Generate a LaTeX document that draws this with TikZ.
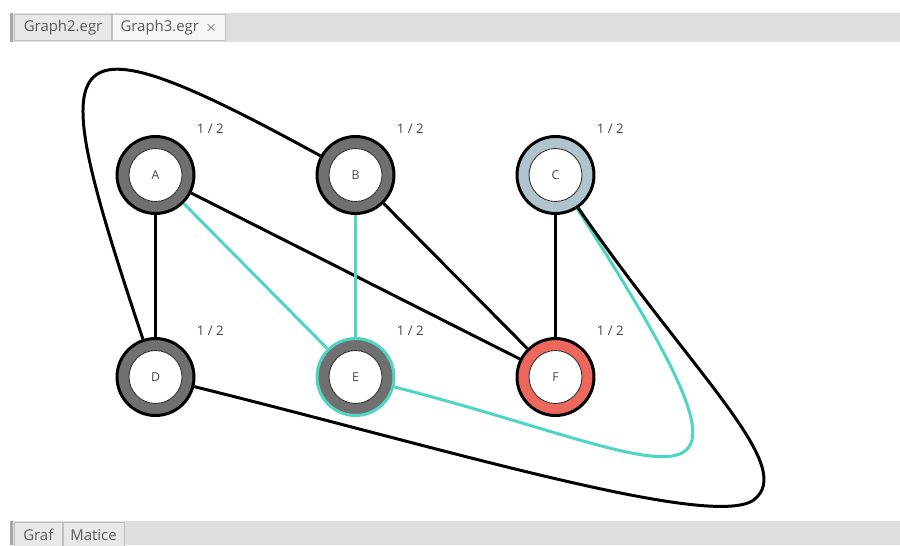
\documentclass[tikz,border=0pt]{standalone}
\usepackage{fontspec}
\setmainfont{Open Sans}
\usepackage{tikz}
\usetikzlibrary{positioning}

\definecolor{ringgray}{RGB}{112,112,112}
\definecolor{ringblue}{RGB}{176,196,206}
\definecolor{ringred}{RGB}{236,104,92}
\definecolor{selcyan}{RGB}{78,214,196}
\definecolor{barbg}{RGB}{222,222,222}
\definecolor{tabbg}{RGB}{232,232,232}
\definecolor{tabsel}{RGB}{246,246,246}
\definecolor{txtgray}{RGB}{70,70,70}

\begin{document}
\begin{tikzpicture}[
        x=0.02cm, y=-0.02cm,
        vertex/.style={circle, draw=black, line width=1.7pt, minimum size=1.54cm, inner sep=0pt,
            font=\fontsize{7}{8}\selectfont, text=txtgray,
            path picture={\draw[fill=white, line width=0.5pt, draw=black!80]
                (path picture bounding box.center) circle (0.53cm);}},
        weight/.style={font=\fontsize{7.5}{9}\selectfont, text=txtgray},
        edge/.style={line width=1.7pt, draw=black},
        seledge/.style={line width=1.7pt, draw=selcyan},
        tab/.style={draw=black!25, minimum height=0.52cm, inner sep=2pt, font=\fontsize{8.5}{9}\selectfont, text=black!65},
        ]
        \useasboundingbox[fill=white] (0,0) rectangle (900,545);

        % window bars with tabs
        \fill[barbg] (10,13) rectangle (900,42);
        \fill[black!35] (10,13) rectangle (13,42);
        \node[tab, fill=tabbg, anchor=north west, minimum width=1.95cm] (t1) at (14,14) {Graph2.egr};
        \node[tab, fill=tabsel, right=0pt of t1, minimum width=2.25cm] (t2) {Graph3.egr \,$\times$};
        \fill[barbg] (10,521) rectangle (900,545);
        \fill[black!35] (10,521) rectangle (13,545);
        \node[tab, fill=tabbg, anchor=north west, minimum width=0.96cm] (g1) at (14,522) {Graf};
        \node[tab, fill=tabbg, right=0pt of g1, minimum width=1.22cm] (g2) {Matice};

        % vertices
        \node[vertex, fill=ringgray] (A) at (155.5,175) {A};
        \node[vertex, fill=ringgray] (B) at (355.5,175) {B};
        \node[vertex, fill=ringblue] (C) at (555.5,175) {C};
        \node[vertex, fill=ringgray] (D) at (155.5,377) {D};
        \node[vertex, fill=ringgray, draw=selcyan] (E) at (355.5,377) {E};
        \node[vertex, fill=ringred] (F) at (555.5,377) {F};

        % weights
        \foreach \v in {A,B,C,D,E,F}
            \node[weight, above right=0.15cm and 0.14cm of \v] (w\v) {1 / 2};

        % edges
        \draw[edge] (A) -- (D);
        \draw[edge] (A) -- (F);
        \draw[edge] (B) -- (F);
        \draw[edge] (C) -- (F);
        \draw[seledge] (A) -- (E);
        \draw[seledge] (B) -- (E);
        \draw[seledge] (C) .. controls (800,555) and (680,460) .. (E);
        \draw[edge] (C) .. controls (690,370) and (792,462) .. (757,497)
            .. controls (727,535) and (450,450) .. (D);
        \draw[edge] (D) .. controls (44,42) and (45,5) .. (B);
\end{tikzpicture}
\end{document}
